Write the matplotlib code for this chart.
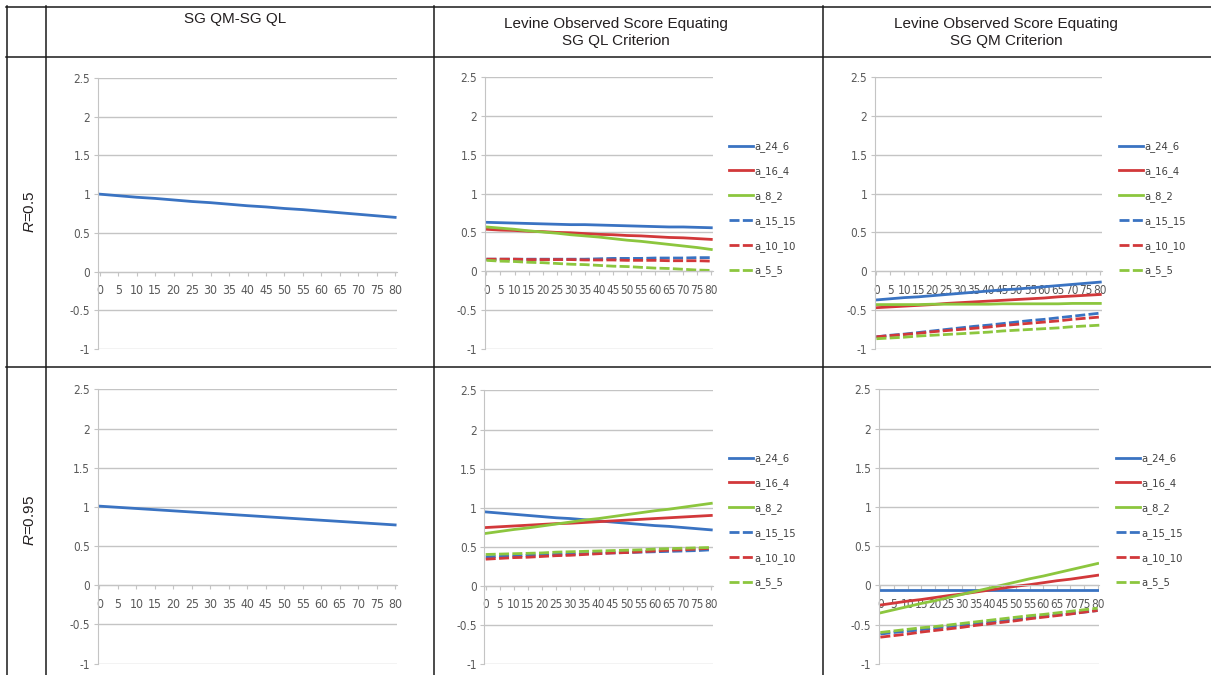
import matplotlib
matplotlib.use("Agg")
import matplotlib.pyplot as plt
from matplotlib.lines import Line2D
from matplotlib import font_manager as fm

plt.rcParams['font.family'] = ['Liberation Sans', 'DejaVu Sans']
plt.rcParams['mathtext.fontset'] = 'custom'
plt.rcParams['mathtext.it'] = 'Liberation Sans:italic'
plt.rcParams['mathtext.rm'] = 'Liberation Sans'

# ---------------- data ----------------
x_cats = [0, 5, 10, 15, 20, 25, 30, 35, 40, 45, 50, 55, 60, 65, 70, 75, 80]
x_labels = [str(v) for v in x_cats]
y_ticks = [-1, -0.5, 0, 0.5, 1, 1.5, 2, 2.5]
y_labels = ['-1', '-0.5', '0', '0.5', '1', '1.5', '2', '2.5']

col_headers = ['SG QM-SG QL',
               'Levine Observed Score Equating\nSG QL Criterion',
               'Levine Observed Score Equating\nSG QM Criterion']
row_headers = ['$R$=0.5', '$R$=0.95']

series_names = ['a_24_6', 'a_16_4', 'a_8_2', 'a_15_15', 'a_10_10', 'a_5_5']

# column 1: SG QM-SG QL
diff_r05 = [1.00, 0.98, 0.96, 0.945, 0.925, 0.905, 0.89, 0.87, 0.85, 0.835, 0.815, 0.80, 0.78, 0.76, 0.74, 0.72, 0.70]
diff_r095 = [1.01, 0.995, 0.98, 0.965, 0.95, 0.935, 0.92, 0.905, 0.89, 0.875, 0.86, 0.845, 0.83, 0.815, 0.80, 0.785, 0.77]

# column 2: Levine, SG QL criterion, R=0.5
ql_r05_a_24_6 = [0.63, 0.625, 0.62, 0.615, 0.61, 0.605, 0.60, 0.60, 0.595, 0.59, 0.585, 0.58, 0.575, 0.57, 0.57, 0.565, 0.56]
ql_r05_a_16_4 = [0.54, 0.53, 0.525, 0.515, 0.51, 0.50, 0.495, 0.485, 0.475, 0.47, 0.46, 0.455, 0.445, 0.435, 0.43, 0.42, 0.41]
ql_r05_a_8_2 = [0.57, 0.555, 0.54, 0.52, 0.505, 0.49, 0.47, 0.455, 0.44, 0.42, 0.40, 0.385, 0.365, 0.345, 0.325, 0.305, 0.28]
ql_r05_a_15_15 = [0.155, 0.155, 0.155, 0.155, 0.155, 0.155, 0.155, 0.155, 0.16, 0.165, 0.165, 0.165, 0.17, 0.17, 0.17, 0.175, 0.175]
ql_r05_a_10_10 = [0.155, 0.155, 0.155, 0.15, 0.15, 0.15, 0.15, 0.145, 0.145, 0.145, 0.14, 0.14, 0.14, 0.135, 0.135, 0.135, 0.13]
ql_r05_a_5_5 = [0.14, 0.13, 0.125, 0.115, 0.11, 0.10, 0.09, 0.085, 0.075, 0.065, 0.06, 0.05, 0.04, 0.035, 0.025, 0.015, 0.01]

# column 3: Levine, SG QM criterion, R=0.5
qm_r05_a_24_6 = [-0.37, -0.355, -0.34, -0.33, -0.315, -0.30, -0.285, -0.27, -0.255, -0.24, -0.23, -0.215, -0.20, -0.185, -0.17, -0.155, -0.14]
qm_r05_a_16_4 = [-0.47, -0.46, -0.45, -0.44, -0.43, -0.415, -0.405, -0.395, -0.385, -0.375, -0.365, -0.355, -0.345, -0.33, -0.32, -0.31, -0.30]
qm_r05_a_8_2 = [-0.43, -0.43, -0.43, -0.43, -0.425, -0.425, -0.425, -0.425, -0.425, -0.42, -0.42, -0.42, -0.42, -0.42, -0.415, -0.415, -0.415]
qm_r05_a_15_15 = [-0.845, -0.825, -0.81, -0.79, -0.77, -0.75, -0.73, -0.71, -0.695, -0.675, -0.655, -0.635, -0.62, -0.60, -0.58, -0.56, -0.54]
qm_r05_a_10_10 = [-0.845, -0.83, -0.815, -0.80, -0.78, -0.765, -0.75, -0.735, -0.72, -0.70, -0.685, -0.67, -0.655, -0.64, -0.62, -0.605, -0.59]
qm_r05_a_5_5 = [-0.87, -0.86, -0.85, -0.835, -0.825, -0.815, -0.805, -0.795, -0.785, -0.77, -0.76, -0.75, -0.74, -0.73, -0.715, -0.705, -0.695]

# column 2: Levine, SG QL criterion, R=0.95
ql_r095_a_24_6 = [0.945, 0.93, 0.915, 0.90, 0.885, 0.87, 0.86, 0.845, 0.83, 0.815, 0.80, 0.785, 0.77, 0.76, 0.745, 0.73, 0.715]
ql_r095_a_16_4 = [0.745, 0.755, 0.765, 0.775, 0.785, 0.795, 0.80, 0.81, 0.82, 0.83, 0.84, 0.85, 0.86, 0.87, 0.88, 0.89, 0.90]
ql_r095_a_8_2 = [0.67, 0.695, 0.72, 0.74, 0.765, 0.79, 0.815, 0.84, 0.86, 0.885, 0.91, 0.935, 0.96, 0.98, 1.005, 1.03, 1.055]
ql_r095_a_15_15 = [0.37, 0.375, 0.38, 0.39, 0.395, 0.40, 0.405, 0.41, 0.415, 0.42, 0.425, 0.43, 0.435, 0.44, 0.445, 0.45, 0.46]
ql_r095_a_10_10 = [0.34, 0.35, 0.36, 0.365, 0.375, 0.385, 0.39, 0.40, 0.41, 0.42, 0.425, 0.435, 0.445, 0.455, 0.46, 0.47, 0.48]
ql_r095_a_5_5 = [0.40, 0.405, 0.41, 0.415, 0.42, 0.43, 0.435, 0.44, 0.445, 0.45, 0.455, 0.46, 0.47, 0.475, 0.48, 0.485, 0.49]

# column 3: Levine, SG QM criterion, R=0.95
qm_r095_a_24_6 = [-0.06, -0.06, -0.06, -0.06, -0.06, -0.06, -0.06, -0.06, -0.06, -0.06, -0.06, -0.06, -0.06, -0.06, -0.06, -0.06, -0.06]
qm_r095_a_16_4 = [-0.25, -0.225, -0.20, -0.18, -0.155, -0.13, -0.11, -0.085, -0.06, -0.035, -0.01, 0.01, 0.035, 0.06, 0.08, 0.105, 0.13]
qm_r095_a_8_2 = [-0.35, -0.31, -0.27, -0.23, -0.195, -0.155, -0.115, -0.075, -0.035, 0.005, 0.045, 0.085, 0.12, 0.16, 0.20, 0.24, 0.28]
qm_r095_a_15_15 = [-0.62, -0.60, -0.585, -0.565, -0.545, -0.525, -0.51, -0.49, -0.47, -0.45, -0.435, -0.415, -0.395, -0.375, -0.36, -0.34, -0.32]
qm_r095_a_10_10 = [-0.66, -0.64, -0.62, -0.595, -0.575, -0.555, -0.535, -0.51, -0.49, -0.47, -0.45, -0.425, -0.405, -0.385, -0.365, -0.34, -0.32]
qm_r095_a_5_5 = [-0.60, -0.58, -0.56, -0.54, -0.525, -0.505, -0.485, -0.465, -0.445, -0.425, -0.405, -0.385, -0.37, -0.35, -0.33, -0.31, -0.29]

ql_r05 = [ql_r05_a_24_6, ql_r05_a_16_4, ql_r05_a_8_2, ql_r05_a_15_15, ql_r05_a_10_10, ql_r05_a_5_5]
qm_r05 = [qm_r05_a_24_6, qm_r05_a_16_4, qm_r05_a_8_2, qm_r05_a_15_15, qm_r05_a_10_10, qm_r05_a_5_5]
ql_r095 = [ql_r095_a_24_6, ql_r095_a_16_4, ql_r095_a_8_2, ql_r095_a_15_15, ql_r095_a_10_10, ql_r095_a_5_5]
qm_r095 = [qm_r095_a_24_6, qm_r095_a_16_4, qm_r095_a_8_2, qm_r095_a_15_15, qm_r095_a_10_10, qm_r095_a_5_5]

# ---------------- style ----------------
BLUE = '#3a73c2'
RED = '#d2383a'
GREEN = '#8cc63e'
series_colors = [BLUE, RED, GREEN, BLUE, RED, GREEN]
DASH = (0, (3.6, 1.2))
series_styles = ['-', '-', '-', DASH, DASH, DASH]
GRID = '#c4c4c4'
TICKTXT = '#595959'

# pick a condensed face if one is installed, else a plain sans at a smaller size
_narrow_file = None
for _f in fm.fontManager.ttflist:
    _n = _f.name.lower()
    if ('narrow' in _n or 'condensed' in _n or str(_f.stretch) in ('condensed', 'semi-condensed')) \
            and _f.style == 'normal' and _f.weight in (400, 'normal', 'regular'):
        _narrow_file = _f.fname
        break
if _narrow_file:
    NARROW = fm.FontProperties(fname=_narrow_file)
    Y_FS, X_FS_WIDE, X_FS_TIGHT, LEG_FS = 8.5, 8.8, 8.5, 8.0
else:
    NARROW = fm.FontProperties(family=['Liberation Sans', 'DejaVu Sans'])
    Y_FS, X_FS_WIDE, X_FS_TIGHT, LEG_FS = 7.5, 7.5, 6.4, 7.2

W, H = 1211, 675
fig = plt.figure(figsize=(W / 100, H / 100), dpi=100)
fig.patch.set_facecolor('white')


def add_ax(x0, x1, ytop, ybot):
    return fig.add_axes([x0 / W, 1 - ybot / H, (x1 - x0) / W, (ybot - ytop) / H])


def style_ax(ax, xfs):
    for s in ['top', 'right']:
        ax.spines[s].set_visible(False)
    ax.spines['left'].set_color(GRID)
    ax.spines['bottom'].set_color(GRID)
    ax.spines['bottom'].set_position(('data', 0))
    ax.set_xlim(-0.5, 80.5)
    ax.set_ylim(-1.006, 2.506)
    ax.tick_params(axis='x', direction='out', length=3, color=GRID, pad=6.0)
    ax.tick_params(axis='y', direction='out', length=3, color=GRID, pad=2.5)
    ax.set_yticks(y_ticks)
    ax.set_yticklabels(y_labels, color=TICKTXT, fontproperties=NARROW, fontsize=Y_FS)
    ax.set_xticks(x_cats)
    ax.set_xticklabels(x_labels, color=TICKTXT, fontproperties=NARROW, fontsize=xfs)
    ax.yaxis.grid(True, color=GRID, lw=1.0)
    ax.set_axisbelow(True)
    ax.set_facecolor('none')


# Column 1 panels
ax_tl = add_ax(98, 397, 77.7, 349.3)
style_ax(ax_tl, X_FS_WIDE)
ax_tl.plot(x_cats, diff_r05, color=BLUE, lw=2.0)

ax_bl = add_ax(97.5, 397, 389, 664)
style_ax(ax_bl, X_FS_WIDE)
ax_bl.plot(x_cats, diff_r095, color=BLUE, lw=2.0)

# Columns 2 and 3 panels with legends
panels = [
    ((485, 712.7, 76.7, 349.3), ql_r05, (729, 209)),
    ((875, 1101.7, 76.7, 349.3), qm_r05, (1119, 209)),
    ((484.3, 712.7, 390, 664.3), ql_r095, (729, 521)),
    ((879, 1099, 389, 664.3), qm_r095, (1116, 521)),
]
for (box, data, (lx, ly)) in panels:
    ax = add_ax(*box)
    style_ax(ax, X_FS_TIGHT)
    for vals, name, c, ls in zip(data, series_names, series_colors, series_styles):
        ax.plot(x_cats, vals, color=c, ls=ls, lw=2.0, label=name)
    leg_prop = NARROW.copy()
    leg_prop.set_size(LEG_FS)
    leg = ax.legend(loc='center left', bbox_to_anchor=(lx / W, 1 - ly / H),
                    bbox_transform=fig.transFigure, frameon=False,
                    prop=leg_prop,
                    handlelength=2.2, handletextpad=0.12, labelspacing=1.25,
                    borderpad=0, borderaxespad=0)
    for t in leg.get_texts():
        t.set_color('#404040')

# ---------------- table frame ----------------
def hline(y, x0=6, x1=W):
    fig.add_artist(Line2D([x0 / W, x1 / W], [1 - y / H, 1 - y / H],
                          transform=fig.transFigure, color='#1a1a1a', lw=1.1))


def vline(x, y0=6, y1=H):
    fig.add_artist(Line2D([x / W, x / W], [1 - y0 / H, 1 - y1 / H],
                          transform=fig.transFigure, color='#1a1a1a', lw=1.1))

hline(6.5)
hline(56.5)
hline(366.5)
vline(6.5)
vline(45.5)
vline(434)
vline(823)

# headers
head_x = [235, 616, 1006]
fig.text(head_x[0] / W, 1 - 19 / H, col_headers[0], ha='center', va='center',
         fontsize=11, color='#231f20')
for hx, txt in zip(head_x[1:], col_headers[1:]):
    fig.text(hx / W, 1 - 32.5 / H, txt, ha='center', va='center',
             fontsize=11, color='#231f20', linespacing=1.35)

fig.text(30 / W, 1 - 211.5 / H, row_headers[0], rotation=90, ha='center',
         va='center', fontsize=11, color='#231f20')
fig.text(30 / W, 1 - 521 / H, row_headers[1], rotation=90, ha='center',
         va='center', fontsize=11, color='#231f20')

fig.savefig('out.png', dpi=100, facecolor='white')
